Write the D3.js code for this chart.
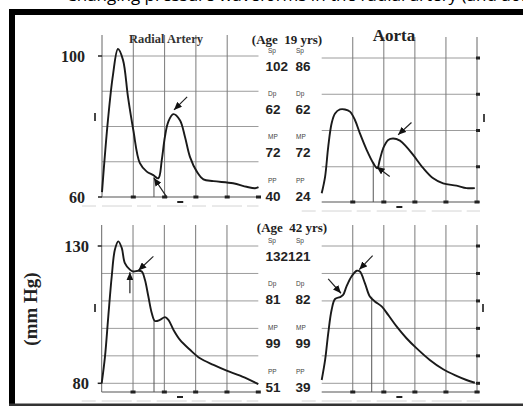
<!DOCTYPE html>
<html><head><meta charset="utf-8">
<script src="https://cdn.jsdelivr.net/npm/d3@7"></script>
<style>html,body{margin:0;padding:0;background:#fff;overflow:hidden}svg{display:block}</style>
</head><body><svg id="c" width="523" height="406"></svg>
<script>
// ---------- data ----------
const timeTicks = [0,1,2,3,4,5];
const youngPressureTicks = [60,70,80,90,100];
const oldPressureTicks = [80,90,100,110,120,130];
const youngLabelTicks = [60,100];
const oldLabelTicks = [80,130];
const statNames = ["Sp","Dp","MP","PP"];
const youngRadialStats = [102,62,72,40];
const youngAortaStats = [86,62,72,24];
const oldRadialStats = [132,81,99,51];
const oldAortaStats = [121,82,99,39];
const ageLabels = ["(Age  19 yrs)","(Age  42 yrs)"];
const siteLabels = ["Radial Artery","Aorta"];
const yAxisTitle = "(mm Hg)";
const captionText = "Changing pressure waveforms in the radial artery (and aorta)";

// waveforms: [time division, pressure mmHg]
const radialYoung = [[0,61.4],[0.19,81.8],[0.35,94.6],[0.51,102],[0.67,98.9],[0.83,88.4],[1.0,79.0],[1.21,69.6],[1.43,67.2],[1.64,66.2],[1.80,65.3],[1.91,70.5],[2.01,77.1],[2.12,81.4],[2.28,83.5],[2.49,81.8],[2.65,77.1],[2.81,71.4],[3.03,67.2],[3.24,65.0],[3.56,64.5],[4.19,63.9],[4.62,62.9],[4.89,62.5],[5.0,62.8]];
const aortaYoung = [[0,62.7],[0.11,67.3],[0.21,75.5],[0.32,82.0],[0.43,84.7],[0.59,85.8],[0.75,85.8],[0.91,85.2],[1.07,82.9],[1.23,79.2],[1.45,74.6],[1.66,71.0],[1.79,69.6],[1.87,71.9],[1.98,75.1],[2.14,77.4],[2.30,77.8],[2.52,77.2],[2.73,75.5],[2.95,73.2],[3.27,69.6],[3.59,66.8],[3.91,65.4],[4.34,64.8],[4.66,64.1],[4.93,64.1]];
const radialOld = [[0,80],[0.105,89.7],[0.21,104.3],[0.32,118.9],[0.42,128.6],[0.53,131.7],[0.64,129.3],[0.74,123.8],[0.90,121.4],[1.01,120.7],[1.17,121.0],[1.28,120.7],[1.38,117.7],[1.49,111.6],[1.60,105.5],[1.70,102.7],[1.86,103.1],[2.02,104.1],[2.13,103.1],[2.29,99.5],[2.50,95.8],[2.82,92.2],[3.14,89.1],[3.57,86.7],[3.99,84.6],[4.42,82.8],[4.84,80.6],[5.0,79.7]];
const aortaOld = [[0,81.2],[0.11,88.5],[0.21,98.2],[0.32,106.8],[0.43,110.7],[0.59,111.4],[0.69,112.2],[0.80,115.3],[0.96,118.9],[1.13,121.0],[1.23,120.7],[1.39,116.5],[1.55,111.6],[1.71,109.8],[1.93,108.0],[2.14,104.9],[2.41,100.7],[2.73,96.4],[3.05,92.8],[3.48,88.5],[3.91,85.1],[4.34,82.7],[4.66,81.2],[4.93,80.2]];

// annotation arrows: [fromT, fromP, toT, toP]
const radialYoungArrows = [[2.72,88.4,2.30,84.7],[2.08,59.8,1.66,65.4]];
const aortaYoungArrows = [[2.89,82.2,2.46,78.8],[2.19,67.3,1.77,70.0]];
const radialOldArrows = [[1.65,126.2,1.17,121.1],[0.90,112.8,0.90,120.4]];
const aortaOldArrows = [[1.64,126.5,1.21,121.4],[0.21,118.0,0.62,112.8]];
// marker lines: [t, pTop, pBottom]
const radialYoungMarker = [1.66,65.7,60];
const aortaYoungMarker = [1.66,71,60];
const radialOldMarker = [1.67,103.1,76.8];
const aortaOldMarker = [1.61,111.5,76.8];

// ---------- layout ----------
const svg = d3.select("#c");
const serif = "'Liberation Serif','Times New Roman',serif";
const sans = "'Liberation Sans',Arial,sans-serif";

// frame
svg.append("rect").attr("x",9).attr("y",9).attr("width",514).attr("height",6).attr("fill","#000");
svg.append("rect").attr("x",9).attr("y",9).attr("width",6).attr("height",397).attr("fill","#000");
svg.append("rect").attr("x",9).attr("y",403.5).attr("width",514).attr("height",2.5).attr("fill","#333");
svg.append("text").attr("x",66).attr("y",0.5).attr("font-family","'Open Sans',sans-serif")
  .attr("font-size",17).attr("fill","#000").text(captionText);

const defs = svg.append("defs");
defs.append("marker").attr("id","ah").attr("markerUnits","userSpaceOnUse")
  .attr("markerWidth",9).attr("markerHeight",7).attr("refX",8).attr("refY",3.5).attr("orient","auto")
  .append("path").attr("d","M0,0 L8,3.5 L0,7 Z").attr("fill","#111");

const panels = [
 {curve:radialYoung, arrows:radialYoungArrows, marker:radialYoungMarker, xr:[102,258.5], yr:[197,56], yd:[60,100], ticks:youngPressureTicks, labels:youngLabelTicks, side:"left", top:35, axisY:197, labelX:85, labelSize:16, iMark:[95,117]},
 {curve:aortaYoung, arrows:aortaYoungArrows, marker:aortaYoungMarker, xr:[321.7,477], yr:[203,58], yd:[60,100], ticks:youngPressureTicks, labels:[], side:"right", top:37, axisY:202, iMark:[484,118]},
 {curve:radialOld, arrows:radialOldArrows, marker:radialOldMarker, xr:[101.7,258.3], yr:[383.3,246], yd:[80,130], ticks:oldPressureTicks, labels:oldLabelTicks, side:"left", top:225, axisY:392, labelX:89, labelSize:16.5, iMark:[95,308]},
 {curve:aortaOld, arrows:aortaOldArrows, marker:aortaOldMarker, xr:[321.7,477], yr:[383.3,246], yd:[80,130], ticks:oldPressureTicks, labels:[], side:"right", top:225, axisY:392, iMark:[483,308]}
];

panels.forEach(p => {
  const x = d3.scaleLinear().domain([0,5]).range(p.xr);
  const y = d3.scaleLinear().domain(p.yd).range(p.yr);
  const g = svg.append("g");
  const xL = x(0), xR = x(5) + (p.side==="right" ? 3 : 0);
  p.ticks.forEach(v => {
    if (Math.abs(y(v) - p.axisY) < 3) return;
    g.append("line").attr("x1",xL).attr("x2",xR).attr("y1",y(v)).attr("y2",y(v))
      .attr("stroke","#9c9c9c").attr("stroke-width",1);
  });
  g.append("line").attr("x1",xL).attr("x2",xR).attr("y1",p.axisY).attr("y2",p.axisY)
    .attr("stroke","#555").attr("stroke-width",1.2);
  g.append("line").attr("x1",xL-20).attr("x2",xR).attr("y1",p.axisY+9).attr("y2",p.axisY+9)
    .attr("stroke","#d4d4d4").attr("stroke-width",1).attr("stroke-dasharray","14,6,30,5");
  const vt = p.side==="left" ? timeTicks.slice(0,5) : timeTicks.slice(1);
  vt.forEach(t => {
    g.append("line").attr("x1",x(t)).attr("x2",x(t)).attr("y1",p.top).attr("y2",p.axisY)
      .attr("stroke", (p.side==="left"&&t===0)||(p.side==="right"&&t===5) ? "#666" : "#7a7a7a").attr("stroke-width",1);
  });
  timeTicks.slice(1).forEach(t => {
    g.append("rect").attr("x",x(t)-2.5).attr("y",p.axisY-1.5).attr("width",5).attr("height",3).attr("fill","#222");
  });
  g.append("rect").attr("x",x(2.5)-3).attr("y",p.axisY+4).attr("width",6).attr("height",2).attr("fill","#222");
  if (p.side==="right") {
    p.ticks.forEach(v => {
      if (Math.abs(y(v) - p.axisY) < 3) return;
      g.append("rect").attr("x",x(5)-1).attr("y",y(v)-1.5).attr("width",4).attr("height",3).attr("fill","#222");
    });
  } else {
    p.labels.forEach(v => {
      g.append("line").attr("x1",xL-4).attr("x2",xL).attr("y1",y(v)).attr("y2",y(v)).attr("stroke","#222").attr("stroke-width",1.5);
      g.append("text").attr("x",p.labelX).attr("y",y(v)+5.5).attr("text-anchor","end")
        .attr("font-family",serif).attr("font-weight","bold").attr("font-size",p.labelSize)
        .attr("fill","#222").text(v);
    });
  }
  g.append("line").attr("x1",p.iMark[0]).attr("x2",p.iMark[0]).attr("y1",p.iMark[1]-4).attr("y2",p.iMark[1]+4)
    .attr("stroke","#333").attr("stroke-width",1.8);
  g.append("line").attr("x1",x(p.marker[0])).attr("x2",x(p.marker[0]))
    .attr("y1",y(p.marker[1])).attr("y2",Math.min(y(p.marker[2]),p.axisY))
    .attr("stroke","#555").attr("stroke-width",1);
  const line = d3.line().x(d=>x(d[0])).y(d=>y(d[1])).curve(d3.curveCatmullRom.alpha(0.5));
  g.append("path").datum(p.curve).attr("d",line).attr("fill","none")
    .attr("stroke","#1a1a1a").attr("stroke-width",1.9).attr("stroke-linejoin","round");
  p.arrows.forEach(a => {
    g.append("line").attr("x1",x(a[0])).attr("y1",y(a[1])).attr("x2",x(a[2])).attr("y2",y(a[3]))
      .attr("stroke","#222").attr("stroke-width",1.2).attr("marker-end","url(#ah)");
  });
});

// titles
svg.append("text").attr("x",166).attr("y",43).attr("text-anchor","middle")
  .attr("font-family",serif).attr("font-weight","bold").attr("font-size",12.5).attr("fill","#333").text(siteLabels[0]);
svg.append("text").attr("x",394).attr("y",41).attr("text-anchor","middle")
  .attr("font-family",serif).attr("font-weight","bold").attr("font-size",17).attr("fill","#222").text(siteLabels[1]);
svg.append("text").attr("x",287).attr("y",44).attr("text-anchor","middle")
  .style("white-space","pre")
  .attr("font-family",serif).attr("font-weight","bold").attr("font-size",13).attr("fill","#222").text(ageLabels[0]);
svg.append("text").attr("x",292).attr("y",232).attr("text-anchor","middle")
  .style("white-space","pre")
  .attr("font-family",serif).attr("font-weight","bold").attr("font-size",13).attr("fill","#222").text(ageLabels[1]);

svg.append("text").attr("transform","translate(37,309) rotate(-90)").attr("text-anchor","middle")
  .attr("font-family",serif).attr("font-weight","bold").attr("font-size",19).attr("fill","#222").text(yAxisTitle);

function stats(left, right, range){
  const r = d3.scalePoint().domain(statNames).range(range);
  statNames.forEach((n,i) => {
    const yy = r(n);
    svg.append("text").attr("x",268).attr("y",yy-18).attr("font-family",sans).attr("font-size",6.5).attr("fill","#444").text(n);
    svg.append("text").attr("x",296).attr("y",yy-18).attr("font-family",sans).attr("font-size",6.5).attr("fill","#444").text(n);
    svg.append("text").attr("x",265.5).attr("y",yy).attr("font-family",sans).attr("font-weight","bold").attr("font-size",13.5).attr("fill","#222").text(left[i]);
    svg.append("text").attr("x",310.5).attr("y",yy).attr("text-anchor","end").attr("font-family",sans).attr("font-weight","bold").attr("font-size",13.5).attr("fill","#222").text(right[i]);
  });
}
stats(youngRadialStats, youngAortaStats, [70.5,200.5]);
stats(oldRadialStats, oldAortaStats, [260.5,391.5]);
</script></body></html>
